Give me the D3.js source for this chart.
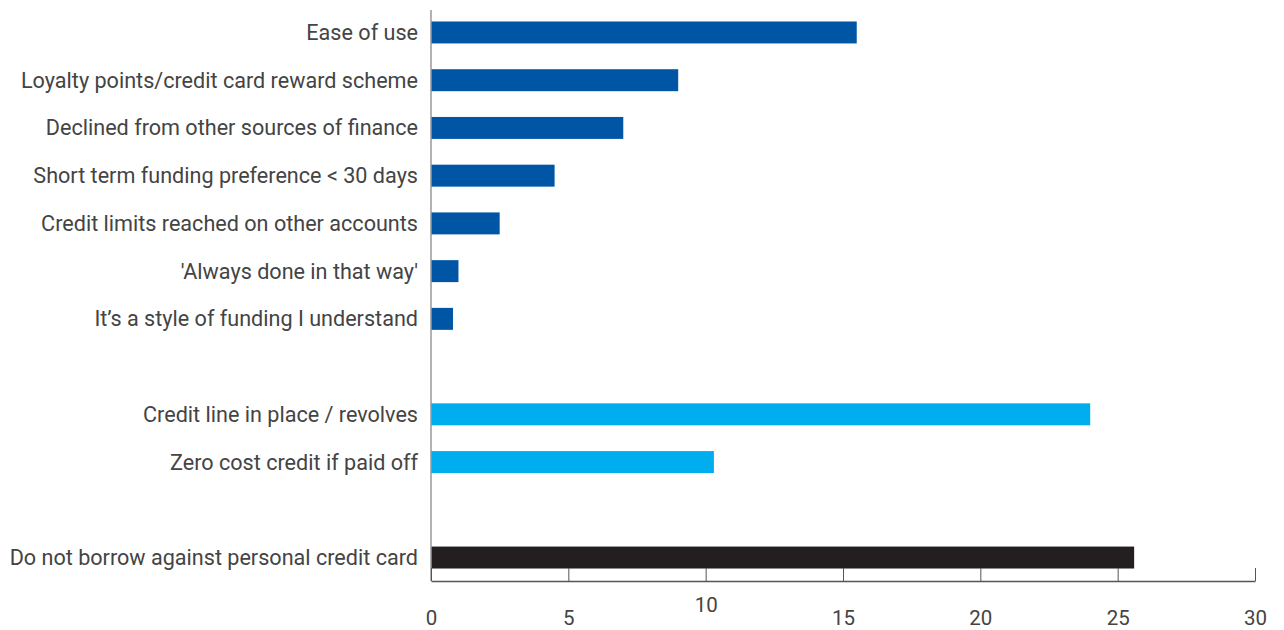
<!DOCTYPE html>
<html><head><meta charset="utf-8">
<script src="https://cdn.jsdelivr.net/npm/d3@7"></script>
<style>body{margin:0;background:#fff;} svg{display:block;font-family:Roboto,"Noto Sans",sans-serif;}</style>
</head><body><svg id="c" width="1284" height="630"></svg>
<script>
const categories = ["Ease of use","Loyalty points/credit card reward scheme","Declined from other sources of finance","Short term funding preference < 30 days","Credit limits reached on other accounts","'Always done in that way'","It\u2019s a style of funding I understand","","Credit line in place / revolves","Zero cost credit if paid off","","Do not borrow against personal credit card"];
const values = [15.5, 9, 7, 4.5, 2.5, 1, 0.8, null, 24, 10.3, null, 25.6];
const groups = ["a","a","a","a","a","a","a","", "b","b","", "c"];
const colors = {a:"#0055a5", b:"#00adef", c:"#231f20"};
const ticks = [0,5,10,15,20,25,30];

const svg = d3.select("#c");
const x = d3.scaleLinear().domain([0,30]).range([431,1255]);
const y = d3.scaleBand().domain(d3.range(categories.length)).range([8.6,581.4]).paddingInner(0.54).paddingOuter(0.27);

svg.selectAll("rect.bar").data(values.map((v,i)=>({v,i})).filter(d=>d.v!=null)).join("rect")
  .attr("class","bar")
  .attr("x",x(0)).attr("y",d=>y(d.i)).attr("height",y.bandwidth())
  .attr("width",d=>x(d.v)-x(0)).attr("fill",d=>colors[groups[d.i]]);

svg.selectAll("text.lab").data(categories.map((c,i)=>({c,i})).filter(d=>d.c)).join("text")
  .attr("class","lab").attr("x",418).attr("y",d=>y(d.i)+y.bandwidth()/2).attr("dy","0.35em")
  .attr("text-anchor","end").attr("font-size",21.6).attr("fill","#444").text(d=>d.c);

// vertical axis line
svg.append("line").attr("x1",431).attr("x2",431).attr("y1",10).attr("y2",581).attr("stroke","#999").attr("stroke-width",1.5);

const ax = svg.append("g").attr("transform","translate(0,581)")
  .call(d3.axisBottom(x).tickValues(ticks).tickSize(-13).tickSizeOuter(0).tickPadding(30));
ax.select(".domain").attr("stroke","#555").attr("stroke-width",1.5);
ax.selectAll(".tick line").attr("stroke","#555");
ax.selectAll(".tick text").attr("font-size",20.5).attr("fill","#444").attr("font-family","Roboto,sans-serif")
  .attr("y",(d,i)=>d===10?16:29).attr("dy","0.71em");
</script></body></html>
